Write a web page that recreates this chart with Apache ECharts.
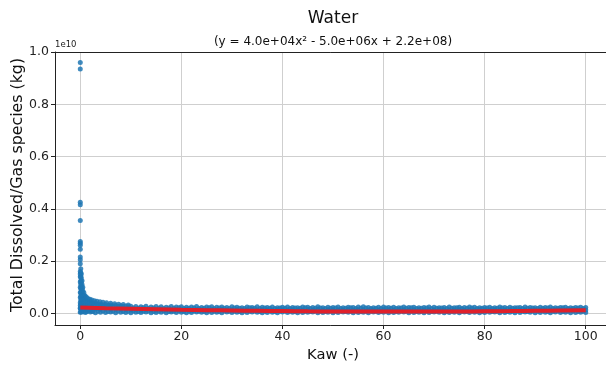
<!DOCTYPE html>
<html>
<head>
<meta charset="utf-8">
<script src="https://cdn.jsdelivr.net/npm/echarts@6/dist/echarts.min.js"></script>
<style>html,body{margin:0;padding:0;background:#fff}#c{width:606px;height:365px}</style>
</head>
<body>
<div id="c"></div>
<script>
// values in units of 1e10 kg
var xTicks = [0, 20, 40, 60, 80, 100];
var yTicks = [0, 0.2, 0.4, 0.6, 0.8, 1.0];

var kaw = [0,1,2,3,4,5,6,7,8,9,10,11,12,13,14,15,16,17,18,19,20,21,22,23,24,25,26,27,28,29,30,31,32,33,34,35,36,37,38,39,40,41,42,43,44,45,46,47,48,49,50,51,52,53,54,55,56,57,58,59,60,61,62,63,64,65,66,67,68,69,70,71,72,73,74,75,76,77,78,79,80,81,82,83,84,85,86,87,88,89,90,91,92,93,94,95,96,97,98,99,100];
var topRow = [0.030,0.050,0.045,0.040,0.036,0.034,0.032,0.030,0.029,0.028,
0.027,0.026,0.025,0.027,0.024,0.026,0.025,0.023,0.026,0.024,
0.025,0.023,0.024,0.026,0.022,0.024,0.025,0.023,0.024,0.022,
0.025,0.023,0.021,0.024,0.022,0.025,0.023,0.022,0.024,0.021,
0.023,0.024,0.022,0.021,0.024,0.023,0.022,0.025,0.021,0.023,
0.022,0.024,0.021,0.023,0.022,0.024,0.025,0.022,0.021,0.023,
0.024,0.022,0.023,0.021,0.024,0.022,0.023,0.021,0.022,0.024,
0.023,0.021,0.022,0.024,0.021,0.023,0.022,0.024,0.023,0.021,
0.022,0.023,0.021,0.024,0.022,0.023,0.021,0.022,0.024,0.022,
0.021,0.023,0.022,0.024,0.021,0.022,0.023,0.021,0.022,0.023,
0.022];
var midRow = [0.018,0.020,0.019,0.018,0.017,0.016,0.016,0.015,0.016,0.015,
0.014,0.015,0.013,0.015,0.014,0.013,0.015,0.014,0.012,0.014,
0.013,0.015,0.012,0.014,0.013,0.012,0.014,0.013,0.015,0.012,
0.013,0.014,0.012,0.013,0.015,0.012,0.014,0.013,0.012,0.014,
0.013,0.012,0.014,0.013,0.012,0.014,0.013,0.015,0.012,0.013,
0.014,0.012,0.013,0.014,0.012,0.013,0.014,0.012,0.013,0.012,
0.014,0.013,0.012,0.014,0.013,0.012,0.013,0.014,0.012,0.013,
0.012,0.014,0.013,0.012,0.013,0.014,0.012,0.013,0.012,0.014,
0.013,0.012,0.014,0.013,0.012,0.013,0.014,0.012,0.013,0.012,
0.014,0.012,0.013,0.012,0.014,0.013,0.012,0.013,0.014,0.012,
0.013];
var lowRow = [0.004,0.003,0.005,0.002,0.004,0.003,0.005,0.002,0.004,0.003,
0.002,0.004,0.003,0.005,0.002,0.003,0.004,0.002,0.005,0.003,
0.004,0.002,0.003,0.005,0.004,0.002,0.003,0.004,0.002,0.005,
0.003,0.004,0.002,0.003,0.005,0.004,0.002,0.003,0.004,0.002,
0.005,0.003,0.004,0.002,0.003,0.004,0.005,0.002,0.003,0.004,
0.002,0.003,0.005,0.004,0.002,0.003,0.004,0.002,0.005,0.003,
0.004,0.002,0.003,0.004,0.005,0.002,0.003,0.004,0.002,0.003,
0.005,0.004,0.002,0.003,0.004,0.002,0.005,0.003,0.004,0.002,
0.003,0.004,0.005,0.002,0.003,0.004,0.002,0.003,0.005,0.004,
0.002,0.003,0.004,0.002,0.005,0.003,0.004,0.002,0.003,0.004,
0.003];

var halfKaw = [0.5,1.5,2.5,3.5,4.5,5.5,6.5,7.5,8.5,9.5,10.5,11.5,12.5,13.5,14.5,15.5,16.5,17.5,18.5,19.5,20.5,21.5,22.5,23.5,24.5,25.5,26.5,27.5,28.5,29.5,30.5,31.5,32.5,33.5,34.5,35.5,36.5,37.5,38.5,39.5,40.5,41.5,42.5,43.5,44.5,45.5,46.5,47.5,48.5,49.5,50.5,51.5,52.5,53.5,54.5,55.5,56.5,57.5,58.5,59.5,60.5,61.5,62.5,63.5,64.5,65.5,66.5,67.5,68.5,69.5,70.5,71.5,72.5,73.5,74.5,75.5,76.5,77.5,78.5,79.5,80.5,81.5,82.5,83.5,84.5,85.5,86.5,87.5,88.5,89.5,90.5,91.5,92.5,93.5,94.5,95.5,96.5,97.5,98.5,99.5];
var halfHigh = [0.060,0.042,0.038,0.035,0.033,0.031,0.029,0.027,0.026,0.025,
0.020,0.019,0.021,0.018,0.020,0.019,0.018,0.020,0.019,0.021,
0.018,0.019,0.020,0.018,0.019,0.021,0.018,0.020,0.019,0.018,
0.020,0.019,0.018,0.021,0.019,0.018,0.020,0.019,0.018,0.020,
0.019,0.018,0.020,0.019,0.021,0.018,0.019,0.020,0.018,0.019,
0.020,0.018,0.019,0.021,0.018,0.019,0.020,0.018,0.019,0.018,
0.020,0.019,0.018,0.020,0.019,0.021,0.018,0.019,0.020,0.018,
0.019,0.020,0.018,0.019,0.021,0.018,0.019,0.020,0.018,0.019,
0.020,0.018,0.019,0.020,0.018,0.019,0.021,0.018,0.019,0.020,
0.018,0.019,0.020,0.018,0.019,0.021,0.018,0.019,0.020,0.018];
var halfLow = [0.008,0.009,0.007,0.008,0.009,0.007,0.008,0.009,0.007,0.008,
0.009,0.007,0.008,0.009,0.007,0.008,0.009,0.007,0.008,0.009,
0.007,0.008,0.009,0.008,0.007,0.009,0.008,0.007,0.009,0.008,
0.008,0.007,0.009,0.008,0.009,0.007,0.008,0.009,0.007,0.008,
0.009,0.008,0.007,0.009,0.008,0.007,0.009,0.008,0.007,0.009,
0.008,0.009,0.007,0.008,0.009,0.007,0.008,0.009,0.008,0.007,
0.009,0.008,0.007,0.009,0.008,0.009,0.007,0.008,0.009,0.007,
0.008,0.009,0.007,0.008,0.009,0.008,0.007,0.009,0.008,0.007,
0.009,0.007,0.008,0.009,0.007,0.008,0.009,0.008,0.007,0.009,
0.008,0.009,0.007,0.008,0.009,0.007,0.008,0.009,0.007,0.008];

var spikeKaw = [0,0,0,0,0,0,0,0,0,0,0,0,0,0,0,0,0,0,0,0,0,
0.1,0.1,0.1,0.1,0.1,0.1,0.1,0.1,0.1,0.1,0.1,0.1,
0.2,0.2,0.2,0.2,0.2,0.2,0.2,0.2,0.2,0.2,
0.35,0.35,0.35,0.35,0.35,0.35,0.35,0.35,0.35,
0.5,0.5,0.5,0.5,0.5,0.5,0.5,
0.7,0.7,0.7,0.7,0.7,0.7,
0.9,0.9,0.9,0.9,0.9,
1.2,1.2,1.2,1.2,1.2,
1.5,1.5,1.5,1.5,
1.9,1.9,1.9,1.9,
2.3,2.3,2.3,2.3,
2.8,2.8,2.8,
3.3,3.3,3.3,
3.9,3.9,3.9,
4.5,4.5,
5.2,5.2,
6.0,6.0,
6.8,7.6,8.5,9.5];
var spikeMass = [0.96,0.935,0.425,0.415,0.355,0.275,0.268,0.26,0.245,0.215,0.205,0.19,0.16,0.15,0.14,0.12,0.10,0.08,0.06,0.04,0.02,
0.17,0.155,0.14,0.125,0.11,0.095,0.08,0.065,0.05,0.035,0.02,0.005,
0.15,0.135,0.12,0.105,0.09,0.075,0.06,0.045,0.03,0.015,
0.125,0.11,0.095,0.08,0.065,0.05,0.035,0.02,0.005,
0.10,0.085,0.07,0.055,0.04,0.025,0.01,
0.08,0.066,0.052,0.038,0.024,0.01,
0.068,0.055,0.042,0.029,0.016,
0.062,0.048,0.034,0.02,0.006,
0.057,0.043,0.029,0.015,
0.054,0.04,0.026,0.012,
0.051,0.037,0.023,0.009,
0.048,0.034,0.02,
0.046,0.032,0.018,
0.044,0.03,0.016,
0.042,0.028,
0.04,0.026,
0.038,0.024,
0.037,0.035,0.034,0.032];

var fitKaw = [0,5,10,15,20,25,30,35,40,45,50,55,60,65,70,75,80,85,90,95,100];
var fitMass = [0.022,0.0196,0.0174,0.0154,0.0136,0.012,0.0106,0.0094,0.0084,0.0076,0.007,0.0066,0.0064,0.0064,0.0066,0.007,0.0076,0.0084,0.0094,0.0106,0.012];

function pairs(xs, ys) { return xs.map(function (x, i) { return [x, ys[i]]; }); }
var scatterData = []
  .concat(pairs(kaw, lowRow))
  .concat(pairs(halfKaw, halfLow))
  .concat(pairs(kaw, midRow))
  .concat(pairs(halfKaw, halfHigh))
  .concat(pairs(kaw, topRow))
  .concat(pairs(spikeKaw, spikeMass));

var FONT = 'DejaVu Sans';
var chart = echarts.init(document.getElementById('c'), null, {renderer: 'canvas'});
chart.setOption({
  animation: false,
  backgroundColor: '#ffffff',
  textStyle: {fontFamily: FONT},
  grid: {left: 55, right: -5, top: 52, bottom: 40, containLabel: false, outerBoundsMode: 'none', show: false},
  xAxis: [{
    type: 'value', min: -5, max: 105,
    name: 'Kaw (-)', nameLocation: 'middle', nameGap: 19,
    nameTextStyle: {fontFamily: FONT, fontSize: 14.7, color: '#111'},
    axisLine: {show: true, onZero: false, lineStyle: {color: '#222', width: 1}},
    axisTick: {show: true, length: 4, inside: false, customValues: xTicks, lineStyle: {color: '#222'}},
    axisLabel: {customValues: xTicks, margin: 5, fontFamily: FONT, fontSize: 12.5, color: '#222'},
    splitLine: {show: true, lineStyle: {color: '#cfcfcf', width: 1}}
  }, {
    type: 'value', min: -5, max: 105, position: 'top',
    axisLine: {show: true, onZero: false, lineStyle: {color: '#222', width: 1}},
    axisTick: {show: false}, axisLabel: {show: false}, splitLine: {show: false}
  }],
  yAxis: {
    type: 'value', min: -0.0448, max: 1.0,
    axisLine: {show: true, onZero: false, lineStyle: {color: '#222', width: 1}},
    axisTick: {show: true, length: 4, inside: false, customValues: yTicks, lineStyle: {color: '#222'}},
    axisLabel: {customValues: yTicks, margin: 6, fontFamily: FONT, fontSize: 12.5, color: '#222',
      formatter: function (v) { return v.toFixed(1); }},
    splitLine: {show: true, lineStyle: {color: '#cfcfcf', width: 1}}
  },
  graphic: [
    {type: 'text', x: 333, y: 19, style: {text: 'Water', font: '17px "DejaVu Sans"', fill: '#111', textAlign: 'center', textVerticalAlign: 'middle'}},
    {type: 'text', x: 333, y: 42, style: {text: '(y = 4.0e+04x² - 5.0e+06x + 2.2e+08)', font: '12px "DejaVu Sans"', fill: '#111', textAlign: 'center', textVerticalAlign: 'middle'}},
    {type: 'text', x: 55, y: 45, style: {text: '1e10', font: '8.5px "DejaVu Sans"', fill: '#222', textAlign: 'left', textVerticalAlign: 'middle'}},
    {type: 'text', x: 18, y: 185, rotation: Math.PI / 2, style: {text: 'Total Dissolved/Gas species (kg)', font: '15.8px "DejaVu Sans"', fill: '#111', textAlign: 'center', textVerticalAlign: 'middle'}}
  ],
  series: [
    {type: 'scatter', data: scatterData, symbolSize: 5, itemStyle: {color: '#1f77b4', opacity: 0.85}, z: 2},
    {type: 'line', data: pairs(fitKaw, fitMass), smooth: true, showSymbol: false, symbol: 'none',
      lineStyle: {color: '#e0202a', width: 4}, z: 3}
  ]
});
</script>
</body>
</html>
